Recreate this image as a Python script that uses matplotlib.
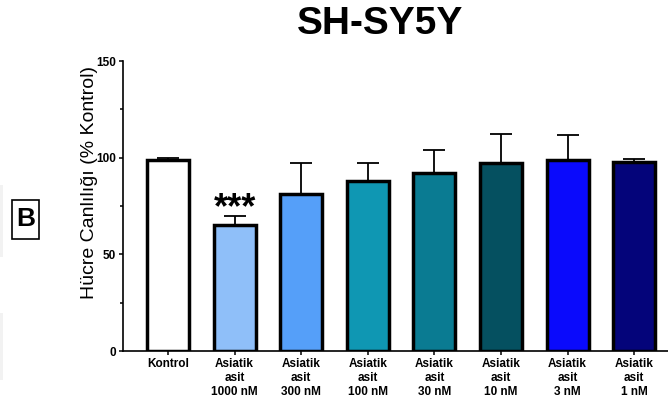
import matplotlib
matplotlib.use("Agg")
import matplotlib.pyplot as plt
from matplotlib.patches import Rectangle
import numpy as np

plt.rcParams['font.family'] = ['Liberation Sans', 'DejaVu Sans']

# Groups, mean viability (% of control) and upper SD
categories = ["Kontrol", "Asiatik\nasit\n1000 nM", "Asiatik\nasit\n300 nM",
              "Asiatik\nasit\n100 nM", "Asiatik\nasit\n30 nM", "Asiatik\nasit\n10 nM",
              "Asiatik\nasit\n3 nM", "Asiatik\nasit\n1 nM"]
means = [99.0, 65.0, 81.0, 88.0, 92.0, 97.5, 99.0, 98.0]
errors = [1.0, 5.0, 16.5, 9.0, 12.0, 15.0, 12.5, 1.5]
significance = ["", "***", "", "", "", "", "", ""]
colors = ["#ffffff", "#8fbff9", "#559ff9", "#0f97b3", "#0a7b92", "#055060",
          "#0a0afc", "#04047a"]

W, H = 668, 403
fig = plt.figure(figsize=(W / 100, H / 100), dpi=100)
ax = fig.add_axes([123 / W, 52 / H, 545 / W, 290 / H])

x = np.arange(len(categories))
ax.errorbar(x, means, yerr=[np.zeros(len(errors)), errors], fmt='none',
            ecolor='black', elinewidth=1.3, capsize=8, capthick=1.3, zorder=2)
ax.bar(x, means, width=0.63, color=colors, edgecolor='black', linewidth=2.5,
       zorder=3)

for xi, m, e, s in zip(x, means, errors, significance):
    if s:
        ax.annotate(s, (xi, m + e), xytext=(0, -2), textcoords='offset points',
                    ha='center', va='baseline', fontsize=26, fontweight='bold')

ax.set_xlim(-0.676, 7.507)
ax.set_ylim(0, 150)
ax.set_yticks([0, 50, 100, 150])
ax.set_yticks([25, 75, 125], minor=True)
ax.set_xticks(x)
ax.set_xticklabels(categories, fontsize=8.5, fontweight='bold', linespacing=1.25)
for lbl in ax.get_yticklabels():
    lbl.set_fontweight('bold')
    lbl.set_fontsize(8.5)

ax.tick_params(axis='both', which='major', direction='out', length=3, width=1.1,
               pad=2)
ax.tick_params(axis='y', which='minor', direction='out', length=2.5, width=1.1)

for side in ('top', 'right'):
    ax.spines[side].set_visible(False)
for side in ('left', 'bottom'):
    ax.spines[side].set_linewidth(1.2)

ax.set_ylabel("Hücre Canlılığı (% Kontrol)", fontsize=14)
ax.yaxis.set_label_coords(-0.046, 0.58)

fig.text(380 / W, 1 - 24 / H, "SH-SY5Y", ha='center', va='center',
         fontsize=28, fontweight='bold')

# Panel letter in a box
fig.add_artist(Rectangle((12 / W, 1 - 239 / H), 27 / W, 39 / H,
                         transform=fig.transFigure, fill=False,
                         edgecolor='black', linewidth=1.2))
fig.text(25.5 / W, 1 - 219.5 / H, "B", ha='center', va='center',
         fontsize=19, fontweight='bold')

# Faint strips along the left border
for y0, y1 in ((185, 257), (313, 380)):
    fig.add_artist(Rectangle((0, 1 - y1 / H), 3 / W, (y1 - y0) / H,
                             transform=fig.transFigure, color='#f2f2f2',
                             linewidth=0))

fig.savefig("out.png", dpi=100)
